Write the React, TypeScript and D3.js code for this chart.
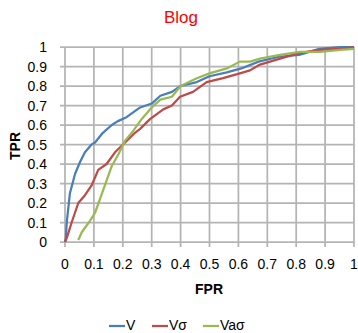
import * as d3 from 'd3';

const W = 358;
const H = 333;

const xTicks = [0, 0.1, 0.2, 0.3, 0.4, 0.5, 0.6, 0.7, 0.8, 0.9, 1];
const yTicks = [0, 0.1, 0.2, 0.3, 0.4, 0.5, 0.6, 0.7, 0.8, 0.9, 1];

// FPR / TPR points
const vFpr = [0, 0.003, 0.006, 0.017, 0.035, 0.052, 0.069, 0.092, 0.104, 0.131, 0.162, 0.183, 0.213, 0.26, 0.3, 0.33, 0.37, 0.4, 0.456, 0.5, 0.56, 0.61, 0.67, 0.74, 0.81, 0.88, 0.95, 1];
const vTpr = [0, 0.02, 0.1, 0.25, 0.35, 0.41, 0.46, 0.5, 0.51, 0.56, 0.6, 0.62, 0.64, 0.69, 0.71, 0.75, 0.77, 0.8, 0.82, 0.85, 0.87, 0.89, 0.925, 0.95, 0.96, 0.99, 1, 1];

const vsFpr = [0, 0.006, 0.023, 0.046, 0.069, 0.092, 0.115, 0.144, 0.173, 0.208, 0.242, 0.26, 0.294, 0.34, 0.37, 0.398, 0.443, 0.49, 0.547, 0.605, 0.64, 0.675, 0.744, 0.813, 0.882, 0.952, 1];
const vsTpr = [0, 0.02, 0.1, 0.2, 0.24, 0.29, 0.37, 0.4, 0.46, 0.51, 0.56, 0.58, 0.63, 0.68, 0.7, 0.745, 0.77, 0.82, 0.84, 0.865, 0.88, 0.91, 0.94, 0.97, 0.985, 0.99, 1];

const vasFpr = [0.046, 0.058, 0.087, 0.104, 0.121, 0.138, 0.162, 0.185, 0.208, 0.236, 0.265, 0.3, 0.33, 0.37, 0.4, 0.456, 0.5, 0.56, 0.605, 0.64, 0.675, 0.744, 0.813, 0.882, 0.952, 1];
const vasTpr = [0.01, 0.05, 0.11, 0.15, 0.22, 0.29, 0.39, 0.45, 0.52, 0.57, 0.63, 0.69, 0.73, 0.745, 0.8, 0.84, 0.865, 0.89, 0.925, 0.925, 0.94, 0.96, 0.975, 0.975, 0.985, 0.99];

const seriesNames = ['V', 'Vσ', 'Vaσ'];
const seriesColors = ['#4a7ebb', '#be4b48', '#98b954'];

export default function App() {
  const margin = { top: 47, right: 4, bottom: 91, left: 65 };
  const x = d3.scaleLinear().domain([0, 1]).range([margin.left, W - margin.right]);
  const y = d3.scaleLinear().domain([0, 1]).range([H - margin.bottom, margin.top]);

  const line = d3.line<[number, number]>()
    .x(d => x(d[0]))
    .y(d => y(d[1]));

  const series = [
    d3.zip(vFpr, vTpr) as [number, number][],
    d3.zip(vsFpr, vsTpr) as [number, number][],
    d3.zip(vasFpr, vasTpr) as [number, number][],
  ];

  const font = '"Liberation Sans", Arial, sans-serif';
  const grid = '#b4b4b4';
  const legendX = [109, 152, 203];

  return (
    <svg width={W} height={H} style={{ position: 'absolute', left: 0, top: 0, background: '#fff' }} fontFamily={font}>
      <text x={181} y={23} textAnchor="middle" fill="#ff0000" fontSize={17}>Blog</text>

      {/* grid */}
      {xTicks.map(t => (
        <line key={'gx' + t} x1={x(t)} x2={x(t)} y1={y(1)} y2={y(0) + 5} stroke={grid} strokeWidth={1.75} />
      ))}
      {yTicks.map(t => (
        <line key={'gy' + t} x1={x(0) - 5} x2={x(1)} y1={y(t)} y2={y(t)} stroke={grid} strokeWidth={1.75} />
      ))}

      {/* tick labels */}
      {yTicks.map(t => (
        <text key={'ty' + t} x={47} y={y(t)} dy="0.36em" textAnchor="end" fontSize={14} fill="#000">{t}</text>
      ))}
      {xTicks.map(t => (
        <text key={'tx' + t} x={x(t)} y={269} textAnchor="middle" fontSize={14} fill="#000">{t}</text>
      ))}

      <text x={209} y={294} textAnchor="middle" fontSize={14} fontWeight="bold">FPR</text>
      <text transform="translate(20,146) rotate(-90)" textAnchor="middle" fontSize={14} fontWeight="bold">TPR</text>

      {/* curves */}
      {series.map((s, i) => (
        <path key={seriesNames[i]} d={line(s) || ''} fill="none" stroke={seriesColors[i]} strokeWidth={2.25} strokeLinejoin="round" />
      ))}

      {/* legend */}
      {seriesNames.map((n, i) => (
        <g key={'lg' + n}>
          <line x1={legendX[i]} x2={legendX[i] + 16} y1={326} y2={326} stroke={seriesColors[i]} strokeWidth={2.25} />
          <text x={legendX[i] + 17} y={330} fontSize={14} fill="#000">{n}</text>
        </g>
      ))}
    </svg>
  );
}
